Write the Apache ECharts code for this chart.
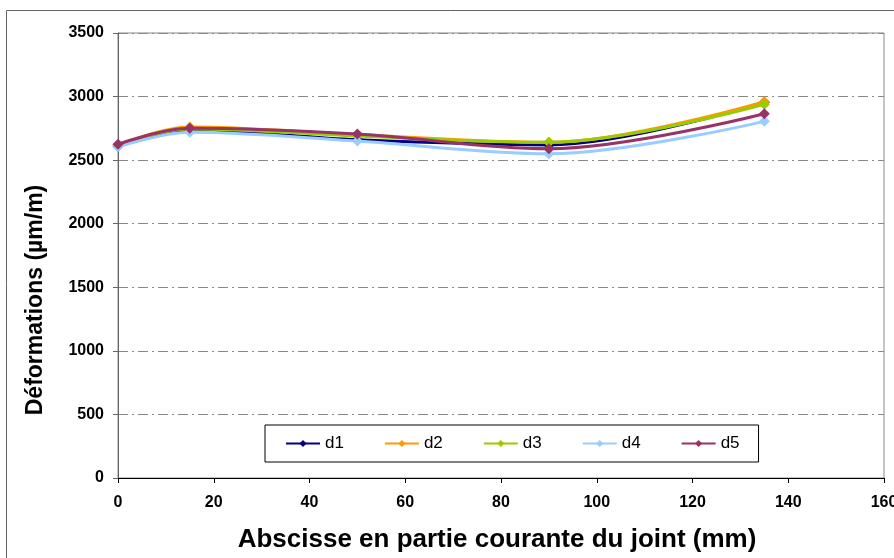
<!DOCTYPE html>
<html>
<head>
<meta charset="utf-8">
<script src="https://cdn.jsdelivr.net/npm/echarts@6/dist/echarts.min.js"></script>
<style>html,body{margin:0;padding:0;background:#fff}#c{width:894px;height:558px}</style>
</head>
<body>
<div id="c"></div>
<script>
const xValues = [0, 15, 50, 90, 135];
const seriesNames = ['d1', 'd2', 'd3', 'd4', 'd5'];
const d1 = [2610, 2735, 2660, 2620, 2955];
const d2 = [2620, 2760, 2700, 2640, 2960];
const d3 = [2620, 2745, 2690, 2640, 2940];
const d4 = [2605, 2720, 2650, 2550, 2805];
const d5 = [2625, 2750, 2705, 2590, 2865];
const colors = ['#000080', '#FF9900', '#99CC00', '#99CCFF', '#993366'];
const allData = [d1, d2, d3, d4, d5];
const xTitle = 'Abscisse en partie courante du joint (mm)';
const yTitle = 'Déformations (µm/m)';

const chart = echarts.init(document.getElementById('c'));
const tickFont = {fontFamily: '"Liberation Sans", Arial', fontWeight: 'bold', fontSize: 16, color: '#000'};
chart.setOption({
  animation: false,
  backgroundColor: '#fff',
  graphic: [{
    type: 'rect', left: 4, top: 8, shape: {width: 1000, height: 1000},
    style: {fill: 'none', stroke: '#666', lineWidth: 1}, silent: true
  }, {
    type: 'text', x: 36, y: 300, rotation: Math.PI / 2,
    style: {text: yTitle, fontFamily: '"Liberation Sans", Arial', fontWeight: 'bold', fontSize: 23, fill: '#000', align: 'center', verticalAlign: 'middle'},
    silent: true
  }, {
    type: 'text', x: 497, y: 540,
    style: {text: xTitle, fontFamily: '"Liberation Sans", Arial', fontWeight: 'bold', fontSize: 26, fill: '#000', align: 'center', verticalAlign: 'middle'},
    silent: true
  }],
  grid: {left: 118, top: 33, right: 10, bottom: 80, show: true, borderColor: '#888', borderWidth: 1, outerBoundsMode: 'none', containLabel: false},
  legend: {
    left: 265, top: 425,
    data: seriesNames,
    itemWidth: 34, itemHeight: 9, itemGap: 40,
    padding: [10, 19, 10, 20],
    borderColor: '#000', borderWidth: 1,
    textStyle: {fontFamily: '"Liberation Sans", Arial', fontSize: 17, color: '#000'}
  },
  xAxis: {
    type: 'value', min: 0, max: 160, interval: 20,
    axisLine: {lineStyle: {color: '#000', width: 1}},
    axisTick: {show: true, inside: false, length: 5, lineStyle: {color: '#000'}},
    axisLabel: Object.assign({margin: 17, formatter: v => String(v)}, tickFont),
    splitLine: {show: false}
  },
  yAxis: {
    type: 'value', min: 0, max: 3500, interval: 500,
    axisLine: {show: true, lineStyle: {color: '#666', width: 1}},
    axisTick: {show: true, inside: false, length: 5, lineStyle: {color: '#666'}},
    axisLabel: Object.assign({margin: 14, formatter: v => String(v)}, tickFont),
    splitLine: {show: true, lineStyle: {color: '#888', width: 1, type: [10, 4, 2, 4]}}
  },
  series: seriesNames.map((n, i) => ({
    name: n, type: 'line', smooth: 0.35,
    data: xValues.map((x, j) => [x, allData[i][j]]),
    symbol: 'diamond', symbolSize: 11,
    itemStyle: {color: colors[i]},
    lineStyle: {color: colors[i], width: 3},
    z: 2 + i
  }))
});
</script>
</body>
</html>
